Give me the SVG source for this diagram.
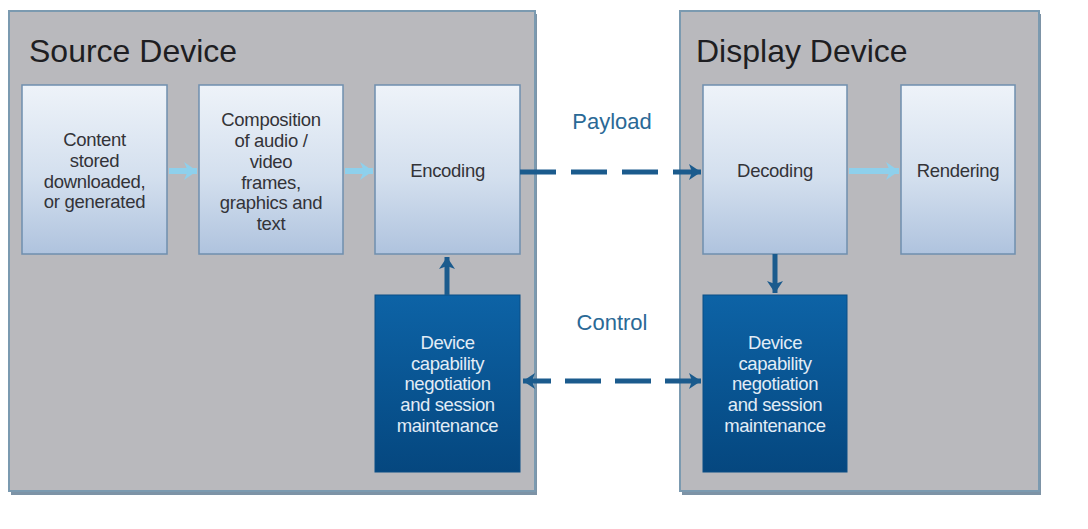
<svg xmlns="http://www.w3.org/2000/svg" width="1088" height="529" viewBox="0 0 1088 529">
<defs>
<linearGradient id="gLight" x1="0" y1="0" x2="0" y2="1">
<stop offset="0" stop-color="#eef3f9"/>
<stop offset="0.55" stop-color="#d3dfee"/>
<stop offset="1" stop-color="#afc3de"/>
</linearGradient>
<linearGradient id="gDark" x1="0" y1="0" x2="0" y2="1">
<stop offset="0" stop-color="#0d63a6"/>
<stop offset="1" stop-color="#05477f"/>
</linearGradient>
<marker id="mLight" markerUnits="userSpaceOnUse" markerWidth="18" markerHeight="20" refX="16" refY="10" orient="auto">
<path d="M3,1 L16,10 L3,19 L7,10 z" fill="#8ed0ec"/>
</marker>
<marker id="mDark" markerUnits="userSpaceOnUse" markerWidth="16" markerHeight="18" refX="14" refY="9" orient="auto-start-reverse">
<path d="M2,1 L14,9 L2,17 L5,9 z" fill="#1b5b8d"/>
</marker>
</defs>
<style>
.outer{fill:#b9b9bd;stroke:#7b9ab0;stroke-width:2}
.oshadow{fill:#7d93a6}
.light{fill:url(#gLight);stroke:#6f8fae;stroke-width:1.5}
.dark{fill:url(#gDark);stroke:#0b4f86;stroke-width:1}
.title{font-family:"Liberation Sans",Arial,sans-serif;font-size:32px;fill:#1e1e22}
.t{font-family:"Liberation Sans",Arial,sans-serif;font-size:18.5px;fill:#333338;text-anchor:middle;letter-spacing:-0.3px}
.tw{font-family:"Liberation Sans",Arial,sans-serif;font-size:18.5px;fill:#e2ecf6;text-anchor:middle;letter-spacing:-0.4px}
.lbl{font-family:"Liberation Sans",Arial,sans-serif;font-size:22px;fill:#2a6996;text-anchor:middle}
.la{fill:none;stroke:#8ed0ec;stroke-width:6}
.da{fill:none;stroke:#1b5b8d;stroke-width:5}
</style>
<rect width="1088" height="529" fill="#ffffff"/>

<g id="source-device">
<rect class="oshadow" x="11" y="14" width="526" height="481"/>
<rect class="outer" x="9" y="11" width="526" height="480"/>
<text class="title" x="29" y="62">Source Device</text>
</g>
<g id="display-device">
<rect class="oshadow" x="682" y="14" width="359" height="481"/>
<rect class="outer" x="680" y="11" width="359" height="480"/>
<text class="title" x="696" y="62">Display Device</text>
</g>

<g id="content">
<rect class="light" x="22" y="85" width="145" height="169"/>
<text class="t" x="94.5" y="146">Content</text>
<text class="t" x="94.5" y="167">stored</text>
<text class="t" x="94.5" y="188">downloaded,</text>
<text class="t" x="94.5" y="208">or generated</text>
</g>
<g id="composition">
<rect class="light" x="199" y="85" width="144" height="169"/>
<text class="t" x="271" y="126">Composition</text>
<text class="t" x="271" y="147">of audio /</text>
<text class="t" x="271" y="168">video</text>
<text class="t" x="271" y="189">frames,</text>
<text class="t" x="271" y="209">graphics and</text>
<text class="t" x="271" y="230">text</text>
</g>
<g id="encoding">
<rect class="light" x="375" y="85" width="145" height="169"/>
<text class="t" x="447.5" y="177">Encoding</text>
</g>
<g id="source-control">
<rect class="dark" x="375" y="295" width="145" height="177"/>
<text class="tw" x="447.5" y="349">Device</text>
<text class="tw" x="447.5" y="370">capability</text>
<text class="tw" x="447.5" y="390">negotiation</text>
<text class="tw" x="447.5" y="411">and session</text>
<text class="tw" x="447.5" y="432">maintenance</text>
</g>
<g id="decoding">
<rect class="light" x="703" y="85" width="144" height="169"/>
<text class="t" x="775" y="177">Decoding</text>
</g>
<g id="rendering">
<rect class="light" x="901" y="85" width="114" height="169"/>
<text class="t" x="958" y="177">Rendering</text>
</g>
<g id="display-control">
<rect class="dark" x="703" y="295" width="144" height="177"/>
<text class="tw" x="775" y="349">Device</text>
<text class="tw" x="775" y="370">capability</text>
<text class="tw" x="775" y="390">negotiation</text>
<text class="tw" x="775" y="411">and session</text>
<text class="tw" x="775" y="432">maintenance</text>
</g>

<g id="connectors">
<path class="la" d="M169,171 H197" marker-end="url(#mLight)"/>
<path class="la" d="M345,171 H373" marker-end="url(#mLight)"/>
<path class="la" d="M849,171 H899" marker-end="url(#mLight)"/>
<path class="da" d="M447,295 V257" marker-end="url(#mDark)"/>
<path class="da" d="M775,254 V293" marker-end="url(#mDark)"/>
<path class="da" d="M520,172 H701" stroke-dasharray="36 15" marker-end="url(#mDark)"/>
<path class="da" d="M523,381 H701" stroke-dasharray="28 14 36 14 36 14 36" marker-start="url(#mDark)" marker-end="url(#mDark)"/>
<text class="lbl" x="612" y="129">Payload</text>
<text class="lbl" x="612" y="330">Control</text>
</g>
</svg>
